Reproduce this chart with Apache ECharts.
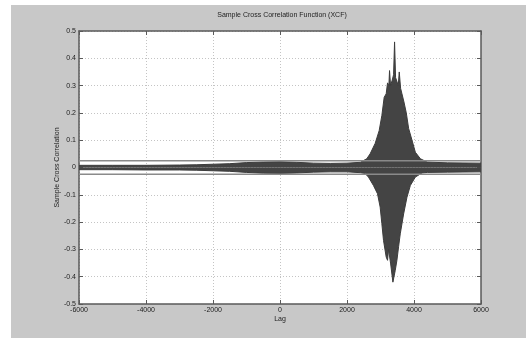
<!DOCTYPE html>
<html><head><meta charset="utf-8">
<script src="https://cdn.jsdelivr.net/npm/echarts@6/dist/echarts.min.js"></script>
<style>
html,body{margin:0;padding:0;background:#fff;}
#c{position:absolute;left:11px;top:5px;width:515px;height:333px;background:#c8c8c8;}
</style></head>
<body><div id="c"></div>
<script>
// Data (envelope of sample cross correlation)
const titleText = 'Sample Cross Correlation Function (XCF)';
const xTicks = [-6000,-4000,-2000,0,2000,4000,6000];
const yTicks = [-0.5,-0.4,-0.3,-0.2,-0.1,0,0.1,0.2,0.3,0.4,0.5];
const upperLags = [-6000,-5000,-4000,-3000,-2500,-2000,-1500,-1000,-500,0,500,1000,1500,2000,2400,2590,2690,2840,2960,3040,3110,3170,3210,3250,3270,3300,3350,3390,3420,3450,3490,3530,3560,3600,3640,3700,3770,3840,3940,4040,4190,4390,5000,6000];
const upperVals = [0.008,0.008,0.008,0.009,0.010,0.012,0.014,0.018,0.020,0.021,0.019,0.016,0.015,0.016,0.019,0.032,0.050,0.088,0.135,0.190,0.257,0.270,0.310,0.300,0.355,0.300,0.320,0.340,0.460,0.330,0.330,0.300,0.350,0.290,0.270,0.240,0.200,0.143,0.100,0.056,0.032,0.020,0.017,0.016];
const lowerLags = [-6000,-5000,-4000,-3000,-2500,-2000,-1500,-1000,-500,0,500,1000,1500,2000,2400,2540,2640,2790,2910,2990,3040,3090,3170,3210,3240,3300,3340,3370,3440,3490,3540,3590,3690,3790,3890,4040,4240,4400,5000,6000];
const lowerVals = [-0.008,-0.008,-0.009,-0.009,-0.010,-0.012,-0.014,-0.018,-0.021,-0.022,-0.020,-0.017,-0.016,-0.016,-0.019,-0.022,-0.035,-0.066,-0.096,-0.145,-0.205,-0.267,-0.328,-0.340,-0.300,-0.350,-0.353,-0.420,-0.377,-0.340,-0.290,-0.243,-0.170,-0.109,-0.066,-0.035,-0.020,-0.018,-0.017,-0.016];
const confBound = 0.025;

const font = 'Liberation Sans, Arial, sans-serif';
const chart = echarts.init(document.getElementById('c'), null, {renderer:'canvas'});
const grid = {left:68, top:26, width:402, height:273};
const axisLine = {show:true, onZero:false, lineStyle:{color:'#5a5a5a', width:1.5}};
const tick = {show:true, inside:true, length:4, lineStyle:{color:'#5a5a5a'}};
const split = {show:true, lineStyle:{color:'#c4c4c4', type:[1,2], width:1}};
chart.setOption({
  animation:false,
  backgroundColor:'#c8c8c8',
  title:{text:titleText, left:266, top:2, textAlign:'center',
    textStyle:{fontSize:7, fontWeight:'normal', color:'#222', fontFamily:font}},
  grid: Object.assign({backgroundColor:'#fff', show:true, borderWidth:0}, grid),
  xAxis:[{type:'value', min:-6000, max:6000, interval:2000, position:'bottom',
    name:'Lag', nameLocation:'middle', nameGap:12, nameMoveOverlap:false,
    nameTextStyle:{fontSize:7, color:'#222', fontFamily:font},
    axisLine:axisLine, axisTick:tick, splitLine:split,
    axisLabel:{fontSize:7, color:'#222', fontFamily:font, margin:3, formatter:v=>String(v)}},
   {type:'value', min:-6000, max:6000, interval:2000, position:'top',
    axisLine:axisLine, axisTick:tick, splitLine:{show:false}, axisLabel:{show:false}}],
  yAxis:[{type:'value', min:-0.5, max:0.5, interval:0.1, position:'left',
    name:'Sample Cross Correlation', nameLocation:'middle', nameGap:18, nameMoveOverlap:false,
    nameTextStyle:{fontSize:7, color:'#222', fontFamily:font},
    axisLine:axisLine, axisTick:tick, splitLine:split,
    axisLabel:{fontSize:7, color:'#222', fontFamily:font, margin:3,
      formatter:v=>String(Math.round(v*10)/10)}},
   {type:'value', min:-0.5, max:0.5, interval:0.1, position:'right',
    axisLine:axisLine, axisTick:tick, splitLine:{show:false}, axisLabel:{show:false}}],
  series:[
    {type:'line', data:upperLags.map((l,i)=>[l,upperVals[i]]), symbol:'none',
      lineStyle:{color:'#3c3c3c', width:1}, areaStyle:{color:'#444', opacity:1}, z:3},
    {type:'line', data:lowerLags.map((l,i)=>[l,lowerVals[i]]), symbol:'none',
      lineStyle:{color:'#3c3c3c', width:1}, areaStyle:{color:'#444', opacity:1}, z:3},
    {type:'line', data:[[-6000,confBound],[6000,confBound]], symbol:'none',
      lineStyle:{color:'#8a8a8a', width:1.5}, z:4},
    {type:'line', data:[[-6000,-confBound],[6000,-confBound]], symbol:'none',
      lineStyle:{color:'#8a8a8a', width:1.5}, z:4}
  ]
});
</script></body></html>
